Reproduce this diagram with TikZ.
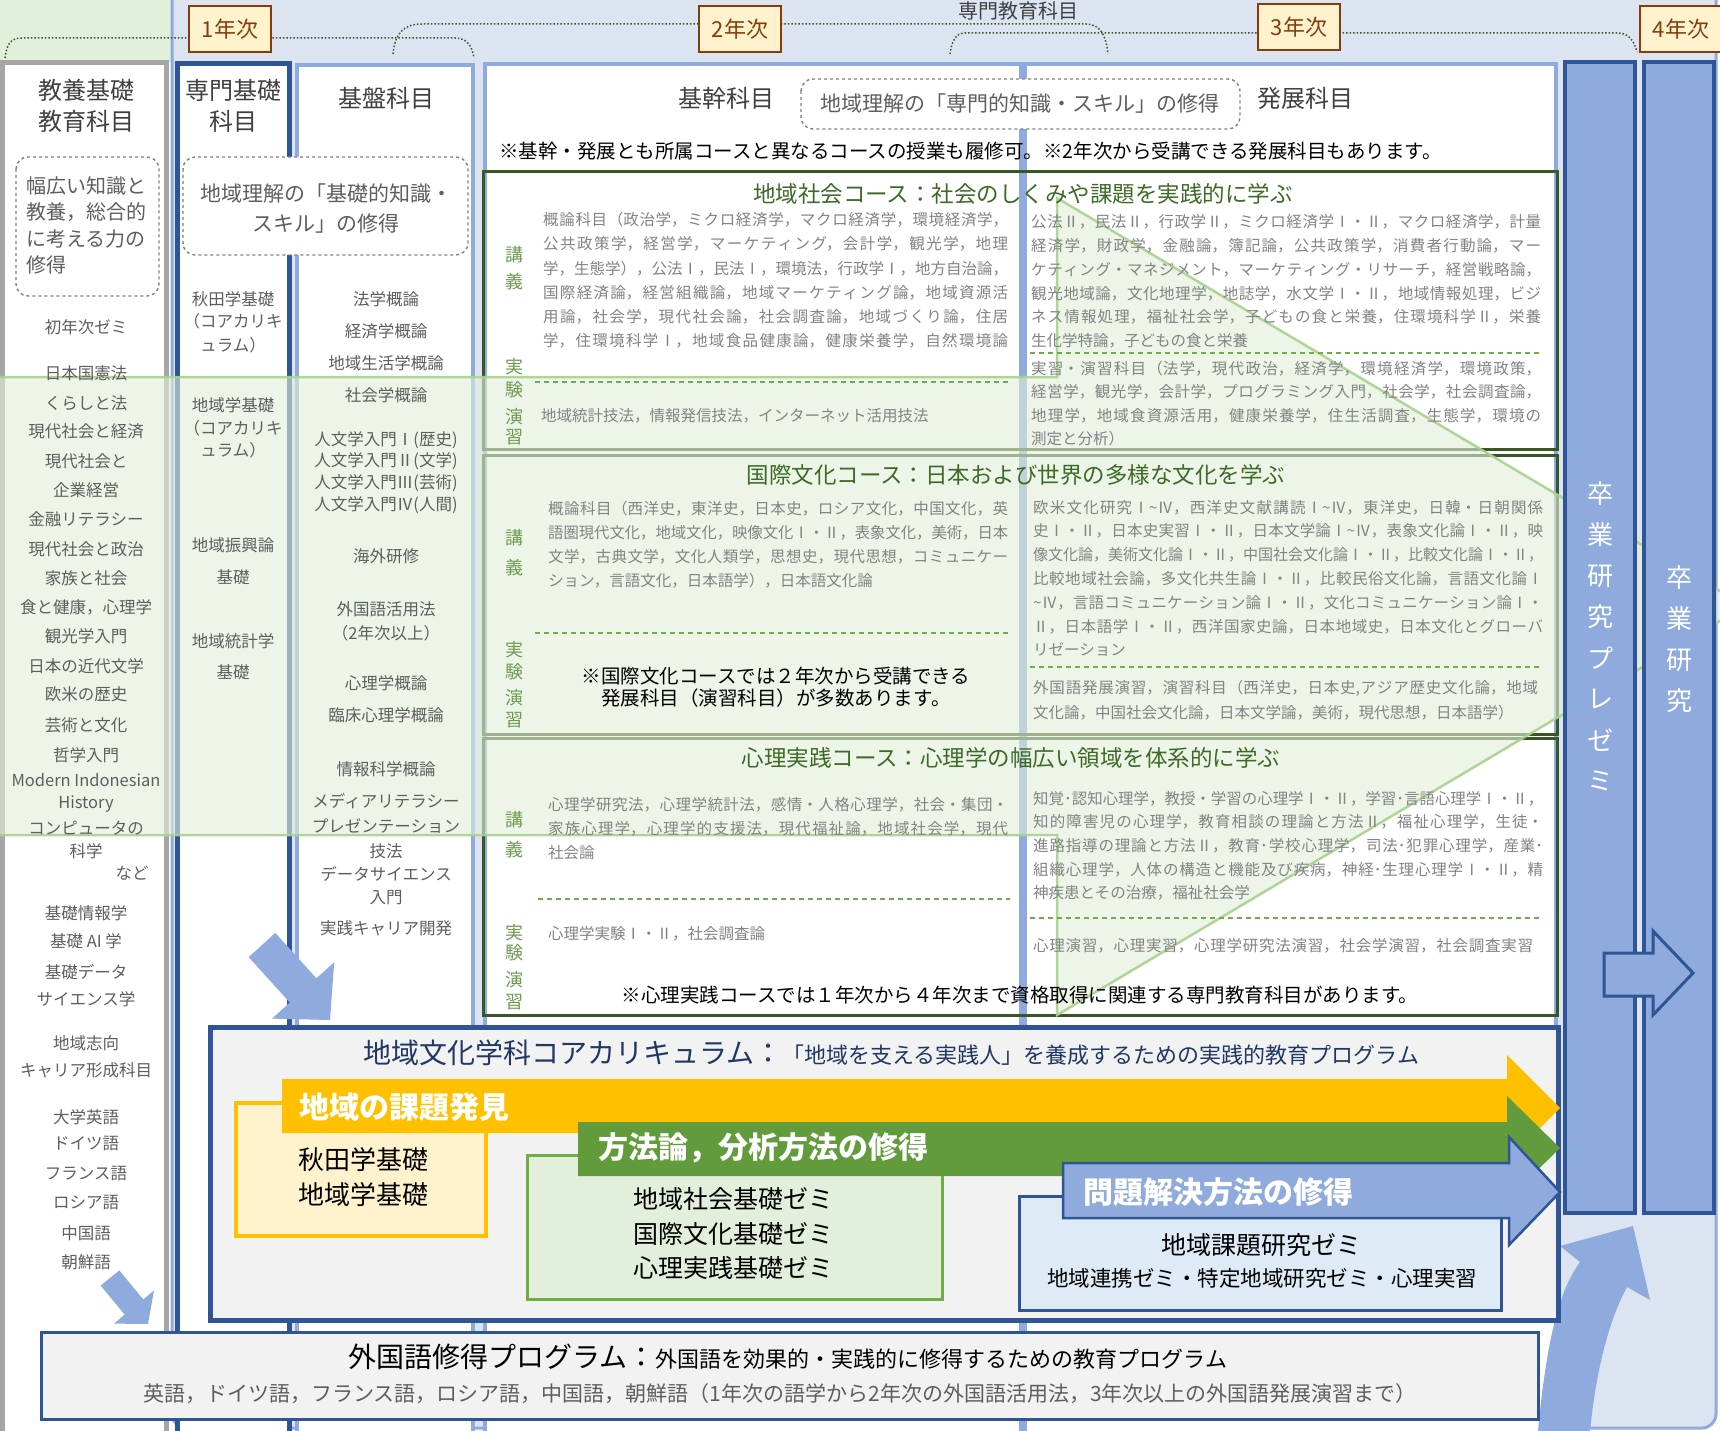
\documentclass[tikz,border=0pt]{standalone}
\usepackage{fontspec}
\usepackage{graphicx}
\setmainfont{Noto Sans CJK JP}
\XeTeXlinebreaklocale "ja"
\XeTeXlinebreakskip=0pt plus 4pt
\definecolor{bgblue}{HTML}{DCE4F2}
\definecolor{lblue}{HTML}{8FAADC}
\definecolor{dblue}{HTML}{2F5597}
\definecolor{lgreen}{HTML}{E2EFDA}
\definecolor{mgreen}{HTML}{70AD47}
\definecolor{dgreen}{HTML}{385723}
\definecolor{ovline}{HTML}{A9D18E}
\definecolor{yrbrown}{HTML}{843C0C}
\definecolor{ybox}{HTML}{FFF2CC}
\definecolor{gold}{HTML}{FFC000}
\definecolor{garrow}{HTML}{629B3C}
\definecolor{lbluebox}{HTML}{DEEBF7}
\definecolor{corebg}{HTML}{F2F2F2}
\definecolor{txt}{HTML}{404040}
\definecolor{txtb}{HTML}{5E5E5E}
\definecolor{ctxt}{HTML}{838383}
\definecolor{cgreen}{HTML}{3E6A27}
\definecolor{labc}{HTML}{6F9A52}
\definecolor{coretitle}{HTML}{203864}
\definecolor{grayb}{HTML}{A6A6A6}
\newsavebox\lnbox
\newcommand\JB[2]{\sbox\lnbox{#2}\ifdim\wd\lnbox>#1\relax\resizebox{#1}{\height}{\usebox\lnbox}\else\vbox{\hsize=#1\parindent=0pt\parfillskip=0pt\leftskip=0pt\rightskip=0pt\noindent#2\par}\fi}
\tikzset{
  col/.style={fill=white, line width=4pt},
  dbox/.style={draw=gray, dashed, line width=1.4pt, rounded corners=12pt, fill=white},
  lst/.style={text=txtb, font=\fontsize{16.5}{18}\selectfont, inner sep=0pt},
  hdr/.style={text=txt, font=\fontsize{24}{31}\selectfont, inner sep=0pt, align=center},
  ct/.style={text=ctxt, font=\fontsize{15.5}{18}\selectfont, inner sep=0pt, anchor=base west},
  labn/.style={text=labc, font=\fontsize{18}{20}\selectfont, inner sep=0pt},
  ctitle/.style={text=cgreen, font=\fontsize{22.5}{24}\selectfont, inner sep=0pt},
  note/.style={text=black, font=\fontsize{19.5}{22}\selectfont, inner sep=0pt},
  dl/.style={draw=mgreen, line width=1.2pt, dash pattern=on 5pt off 4pt},
  yr/.style={draw=yrbrown, fill=ybox, line width=2.5pt, text=yrbrown, font=\fontsize{22}{24}\selectfont, minimum width=82pt, minimum height=46pt, inner sep=0pt},
  brk/.style={draw=dgreen, line width=1.5pt, dash pattern=on 1.5pt off 2pt},
  vt/.style={text=white, font=\fontsize{26}{28}\selectfont, inner sep=0pt},
  albl/.style={text=white, font=\bfseries\fontsize{30}{32}\selectfont, inner sep=0pt, anchor=west},
  boxt/.style={text=black, font=\fontsize{25}{27}\selectfont, inner sep=0pt},
}
\begin{document}
\begin{tikzpicture}[x=1pt,y=-1pt]
\useasboundingbox (0,0) rectangle (1720,1431);
% backgrounds
\fill[lgreen] (0,0) rectangle (172,62);
\draw[fill=bgblue, draw=lblue, line width=3pt, rounded corners=14pt] (172,-30) rectangle (1716,1428);
% brackets
\draw[brk] (5,58) .. controls (7,42) and (12,38) .. (22,38) -- (455,38) .. controls (466,38) and (472,45) .. (474,58);
\draw[brk] (393,54) .. controls (395,32) and (405,24) .. (422,24) -- (1086,24) .. controls (1100,24) and (1106,35) .. (1108,54);
\draw[brk] (950,54) .. controls (952,40) and (956,33) .. (965,33) -- (1618,33) .. controls (1628,33) and (1634,40) .. (1637,52);
\node[yr] (y1) at (230,29) {1年次};
\node[yr] (y2) at (740,29) {2年次};
\node[yr] (y3) at (1299,27) {3年次};
\node[yr] (y4) at (1681,29) {4年次};
\node[text=txt, font=\fontsize{20}{22}\selectfont, inner sep=0pt] (ttl) at (1018,11) {専門教育科目};
% columns
\draw[col, draw=grayb, line width=5pt] (2.5,63) rectangle (166,1445);
\draw[col, draw=dblue, line width=5pt] (177.5,64) rectangle (289,1445);
\draw[col, draw=lblue] (297,65) rectangle (473,1445);
\draw[col, draw=lblue] (485,64) rectangle (1021,1445);
\draw[col, draw=lblue] (1025,64) rectangle (1556,1445);
% dashed boxes
\draw[dbox] (16,157) rectangle (159,296);
\draw[dbox] (183,157) rectangle (468,255);
\draw[dbox] (801,79) rectangle (1240,129);
% course boxes
\draw[dgreen, line width=3pt] (483,172) rectangle (1557,449);
\draw[dgreen, line width=3pt] (483,455) rectangle (1557,734);
\draw[dgreen, line width=3pt] (483,738) rectangle (1557,1015);
% overlay
\draw[fill=lgreen, fill opacity=0.6, draw=ovline, draw opacity=0.9, line width=2.5pt] (-5,377) -- (1057,377) -- (1057,198) -- (1745,606) -- (1057,1015) -- (1057,835) -- (-5,835) -- cycle;
% right columns
\draw[fill=lblue, draw=dblue, line width=4pt] (1565,62) rectangle (1635,1213);
\draw[fill=lblue, draw=dblue, line width=4pt] (1644,62) rectangle (1714,1213);
\draw[fill=lblue, draw=dblue, line width=3pt] (1604,953) -- (1653,953) -- (1653,931) -- (1693,973) -- (1653,1015) -- (1653,996) -- (1604,996) -- cycle;
\foreach \chr [count=\i from 0] in {卒,業,研,究,プ,レ,ゼ,ミ} \node[vt] (p\i) at (1600,{494+41*\i}) {\chr};
\foreach \chr [count=\i from 0] in {卒,業,研,究} \node[vt] (g\i) at (1679,{578+41*\i}) {\chr};
% bottom right curved arrow
\fill[lblue] (1538,1431) .. controls (1546,1345) and (1558,1292) .. (1580,1262) -- (1560,1246) -- (1633,1226) -- (1650,1300) -- (1627,1287) .. controls (1608,1322) and (1596,1372) .. (1590,1431) -- cycle;
% core box
\draw[fill=corebg, draw=dblue, line width=5pt] (210,1027) rectangle (1558,1320);
\draw[fill=ybox, draw=gold, line width=4pt] (236,1103) rectangle (486,1236);
\fill[gold] (282,1079) -- (1507,1079) -- (1507,1055) -- (1560,1108) -- (1507,1161) -- (1507,1133) -- (282,1133) -- cycle;
\draw[fill=lgreen, draw=mgreen, line width=3pt] (527,1155) rectangle (942,1299);
\fill[garrow] (578,1122) -- (1507,1122) -- (1507,1096) -- (1560,1148) -- (1507,1200) -- (1507,1176) -- (578,1176) -- cycle;
\draw[fill=lbluebox, draw=dblue, line width=3pt] (1019,1196) rectangle (1501,1310);
\draw[fill=lblue, draw=dblue, line width=2.5pt] (1063,1163) -- (1509,1163) -- (1509,1137) -- (1560,1192) -- (1509,1245) -- (1509,1218) -- (1063,1218) -- cycle;
% foreign box
\draw[fill=corebg, draw=dblue, line width=3pt] (41,1332) rectangle (1538,1419);
% blue arrows left
\fill[lblue] (275.3,932.9) -- (316.4,978.3) -- (334.2,962.2) -- (330,1020) -- (272,1018.6) -- (289.8,1002.5) -- (248.7,957.1) -- cycle;
\fill[lblue] (119.3,1270.4) -- (143.3,1299.4) -- (154,1290.4) -- (148,1324) -- (114,1323.6) -- (124.7,1314.6) -- (100.7,1285.6) -- cycle;
% headers
\node[hdr] (h1) at (86,105.5) {教養基礎\\教育科目};
\node[hdr] (h2) at (233,105.5) {専門基礎\\科目};
\node[hdr] (h3) at (386,98) {基盤科目};
\node[hdr] (h4) at (726,98) {基幹科目};
\node[hdr] (h5) at (1305,98) {発展科目};
\node[anchor=north west, align=left, text=txtb, font=\fontsize{20}{26.5}\selectfont, inner sep=0pt] (kb) at (26,176) {幅広い知識と\\教養，総合的\\に考える力の\\修得};
\node[align=center, text=txtb, font=\fontsize{21}{30}\selectfont, inner sep=0pt] (sb) at (326,209) {地域理解の「基礎的知識・\\スキル」の修得};
\node[text=txtb, font=\fontsize{21}{24}\selectfont, inner sep=0pt] (kk) at (1020,104) {地域理解の「専門的知識・スキル」の修得};
\node[note, anchor=base west] (n0) at (499,159) {※基幹・発展とも所属コースと異なるコースの授業も履修可。※2年次から受講できる発展科目もあります。};
% left lists
\foreach \yy/\q [count=\i] in {327/初年次ゼミ, 373/日本国憲法, 403/くらしと法, 431/現代社会と経済, 461/現代社会と, 490/企業経営, 519/金融リテラシー, 549/現代社会と政治, 578/家族と社会, 607/食と健康，心理学, 636/観光学入門, 666/日本の近代文学, 694/欧米の歴史, 725/芸術と文化, 755/哲学入門, 780/Modern Indonesian, 804/History, 828/コンピュータの, 851/科学, 913/基礎情報学, 941/基礎 AI 学, 972/基礎データ, 999/サイエンス学, 1043/地域志向, 1070/キャリア形成科目, 1117/大学英語, 1144/ドイツ語, 1174/フランス語, 1203/ロシア語, 1233/中国語, 1262/朝鮮語}
  \node[lst] (k\i) at (86,\yy) {\q};
\node[lst] (knado) at (132,873) {など};
\foreach \yy/\q [count=\i] in {299/秋田学基礎, 321/（コアカリキ, 345/ュラム）, 405/地域学基礎, 428/（コアカリキ, 450/ュラム）, 545/地域振興論, 577/基礎, 641/地域統計学, 672/基礎}
  \node[lst] (s\i) at (233,\yy) {\q};
\foreach \yy/\q [count=\i] in {299/法学概論, 331/経済学概論, 363/地域生活学概論, 395/社会学概論, 440/人文学入門Ⅰ(歴史), 461/人文学入門Ⅱ(文学), 483/人文学入門Ⅲ(芸術), 505/人文学入門Ⅳ(人間), 556/海外研修, 609/外国語活用法, 633/（2年次以上）, 683/心理学概論, 715/臨床心理学概論, 769/情報科学概論, 801/メディアリテラシー, 826/プレゼンテーション, 851/技法, 874/データサイエンス, 898/入門, 928/実践キャリア開発}
  \node[lst] (b\i) at (386,\yy) {\q};
% course titles
\node[ctitle] (c1t) at (1023,194) {地域社会コース：社会のしくみや課題を実践的に学ぶ};
\node[ctitle] (c2t) at (1016,475) {国際文化コース：日本および世界の多様な文化を学ぶ};
\node[ctitle] (c3t) at (1011,758) {心理実践コース：心理学の幅広い領域を体系的に学ぶ};
% labels
\foreach \yy/\q [count=\i] in {255/講, 282/義, 367/実, 390/験, 417/演, 437/習, 538/講, 568/義, 650/実, 672/験, 698/演, 720/習, 820/講, 850/義, 933/実, 953/験, 980/演, 1002/習}
  \node[labn] (lb\i) at (514,\yy) {\q};
% dashed lines
\draw[dl] (535,382) -- (1008,382);
\draw[dl] (1030,353) -- (1542,353);
\draw[dl] (535,633) -- (1008,633);
\draw[dl] (1030,667) -- (1542,667);
\draw[dl] (538,899) -- (1010,899);
\draw[dl] (1030,918) -- (1542,918);
% course 1 text
\node[ct] (a1) at (543,226) {\JB{465pt}{概論科目（政治学，ミクロ経済学，マクロ経済学，環境経済学，}};
\node[ct] (a2) at (543,250) {\JB{465pt}{公共政策学，経営学，マーケティング，会計学，観光学，地理}};
\node[ct] (a3) at (543,274) {\JB{465pt}{学，生態学），公法Ⅰ，民法Ⅰ，環境法，行政学Ⅰ，地方自治論，}};
\node[ct] (a4) at (543,298) {\JB{465pt}{国際経済論，経営組織論，地域マーケティング論，地域資源活}};
\node[ct] (a5) at (543,322) {\JB{465pt}{用論，社会学，現代社会論，社会調査論，地域づくり論，住居}};
\node[ct] (a6) at (543,346) {\JB{465pt}{学，住環境科学Ⅰ，地域食品健康論，健康栄養学，自然環境論}};
\node[ct] (a7) at (541,421) {地域統計技法，情報発信技法，インターネット活用技法};
\node[ct] (b1) at (1031,228) {\JB{510pt}{公法Ⅱ，民法Ⅱ，行政学Ⅱ，ミクロ経済学Ⅰ・Ⅱ，マクロ経済学，計量}};
\node[ct] (b2) at (1031,251.7) {\JB{510pt}{経済学，財政学，金融論，簿記論，公共政策学，消費者行動論，マー}};
\node[ct] (b3) at (1031,275.4) {\JB{510pt}{ケティング・マネジメント，マーケティング・リサーチ，経営戦略論，}};
\node[ct] (b4) at (1031,299.1) {\JB{510pt}{観光地域論，文化地理学，地誌学，水文学Ⅰ・Ⅱ，地域情報処理，ビジ}};
\node[ct] (b5) at (1031,322.8) {\JB{510pt}{ネス情報処理，福祉社会学，子どもの食と栄養，住環境科学Ⅱ，栄養}};
\node[ct] (b6) at (1031,346.5) {生化学特論，子どもの食と栄養};
\node[ct] (b7) at (1031,374) {\JB{510pt}{実習・演習科目（法学，現代政治，経済学，環境経済学，環境政策，}};
\node[ct] (b8) at (1031,397.5) {\JB{510pt}{経営学，観光学，会計学，プログラミング入門，社会学，社会調査論，}};
\node[ct] (b9) at (1031,421) {\JB{510pt}{地理学，地域食資源活用，健康栄養学，住生活調査，生態学，環境の}};
\node[ct] (b10) at (1031,444) {測定と分析）};
% course 2 text
\node[ct] (d1) at (548,514) {\JB{460pt}{概論科目（西洋史，東洋史，日本史，ロシア文化，中国文化，英}};
\node[ct] (d2) at (548,538) {\JB{460pt}{語圏現代文化，地域文化，映像文化Ⅰ・Ⅱ，表象文化，美術，日本}};
\node[ct] (d3) at (548,562) {\JB{460pt}{文学，古典文学，文化人類学，思想史，現代思想，コミュニケー}};
\node[ct] (d4) at (548,586) {ション，言語文化，日本語学），日本語文化論};
\node[note, align=center] (n2) at (776,687) {※国際文化コースでは２年次から受講できる\\発展科目（演習科目）が多数あります。};
\node[ct] (e1) at (1033,513) {\JB{510pt}{欧米文化研究Ⅰ\textasciitilde Ⅳ，西洋史文献講読Ⅰ\textasciitilde Ⅳ，東洋史，日韓・日朝関係}};
\node[ct] (e2) at (1033,536.8) {\JB{510pt}{史Ⅰ・Ⅱ，日本史実習Ⅰ・Ⅱ，日本文学論Ⅰ\textasciitilde Ⅳ，表象文化論Ⅰ・Ⅱ，映}};
\node[ct] (e3) at (1033,560.6) {\JB{510pt}{像文化論，美術文化論Ⅰ・Ⅱ，中国社会文化論Ⅰ・Ⅱ，比較文化論Ⅰ・Ⅱ，}};
\node[ct] (e4) at (1033,584.4) {\JB{510pt}{比較地域社会論，多文化共生論Ⅰ・Ⅱ，比較民俗文化論，言語文化論Ⅰ}};
\node[ct] (e5) at (1033,608.2) {\JB{510pt}{\textasciitilde Ⅳ，言語コミュニケーション論Ⅰ・Ⅱ，文化コミュニケーション論Ⅰ・}};
\node[ct] (e6) at (1033,632) {\JB{510pt}{Ⅱ，日本語学Ⅰ・Ⅱ，西洋国家史論，日本地域史，日本文化とグローバ}};
\node[ct] (e7) at (1033,655.8) {リゼーション};
\node[ct] (e8) at (1033,693) {\JB{505pt}{外国語発展演習，演習科目（西洋史，日本史,アジア歴史文化論，地域}};
\node[ct] (e9) at (1033,718) {文化論，中国社会文化論，日本文学論，美術，現代思想，日本語学）};
% course 3 text
\node[ct] (f1) at (548,810) {\JB{460pt}{心理学研究法，心理学統計法，感情・人格心理学，社会・集団・}};
\node[ct] (f2) at (548,834) {\JB{460pt}{家族心理学，心理学的支援法，現代福祉論，地域社会学，現代}};
\node[ct] (f3) at (548,858) {社会論};
\node[ct] (f4) at (548,939) {心理学実験Ⅰ・Ⅱ，社会調査論};
\node[ct] (m1) at (1033,804) {\JB{510pt}{知覚･認知心理学，教授・学習の心理学Ⅰ・Ⅱ，学習･言語心理学Ⅰ・Ⅱ，}};
\node[ct] (m2) at (1033,827.7) {\JB{510pt}{知的障害児の心理学，教育相談の理論と方法Ⅱ，福祉心理学，生徒・}};
\node[ct] (m3) at (1033,851.4) {\JB{510pt}{進路指導の理論と方法Ⅱ，教育･学校心理学，司法･犯罪心理学，産業･}};
\node[ct] (m4) at (1033,875.1) {\JB{510pt}{組織心理学，人体の構造と機能及び疾病，神経･生理心理学Ⅰ・Ⅱ，精}};
\node[ct] (m5) at (1033,898.8) {神疾患とその治療，福祉社会学};
\node[ct] (m6) at (1033,951) {\JB{500pt}{心理演習，心理実習，心理学研究法演習，社会学演習，社会調査実習}};
\node[note] (n3) at (1020,995) {※心理実践コースでは１年次から４年次まで資格取得に関連する専門教育科目があります。};
% core texts
\node[anchor=base west, text=coretitle, inner sep=0pt] (cti) at (363,1063) {{\fontsize{28}{30}\selectfont 地域文化学科コアカリキュラム：}{\fontsize{22}{24}\selectfont 「地域を支える実践人」を養成するための実践的教育プログラム}};
\node[albl] (t1) at (299,1107) {地域の課題発見};
\node[albl] (t2) at (598,1148) {方法論，分析方法の修得};
\node[albl] (t3) at (1083,1192) {問題解決方法の修得};
\node[boxt, align=center, font=\fontsize{26}{35}\selectfont] (yb) at (363,1177) {秋田学基礎\\地域学基礎};
\node[boxt, align=center, font=\fontsize{25}{34.5}\selectfont] (gb) at (733,1234) {地域社会基礎ゼミ\\国際文化基礎ゼミ\\心理実践基礎ゼミ};
\node[boxt] (bb1) at (1261,1245) {地域課題研究ゼミ};
\node[boxt, font=\fontsize{21.5}{24}\selectfont] (bb2) at (1262,1278) {地域連携ゼミ・特定地域研究ゼミ・心理実習};
% foreign texts
\node[anchor=base, text=black, inner sep=0pt] (fl1) at (788,1367) {{\fontsize{28}{30}\selectfont 外国語修得プログラム：}{\fontsize{22}{24}\selectfont 外国語を効果的・実践的に修得するための教育プログラム}};
\node[anchor=base, text=txtb, font=\fontsize{21}{24}\selectfont, inner sep=0pt] (fl2) at (780,1401) {英語，ドイツ語，フランス語，ロシア語，中国語，朝鮮語（1年次の語学から2年次の外国語活用法，3年次以上の外国語発展演習まで）};
\end{tikzpicture}
\end{document}
